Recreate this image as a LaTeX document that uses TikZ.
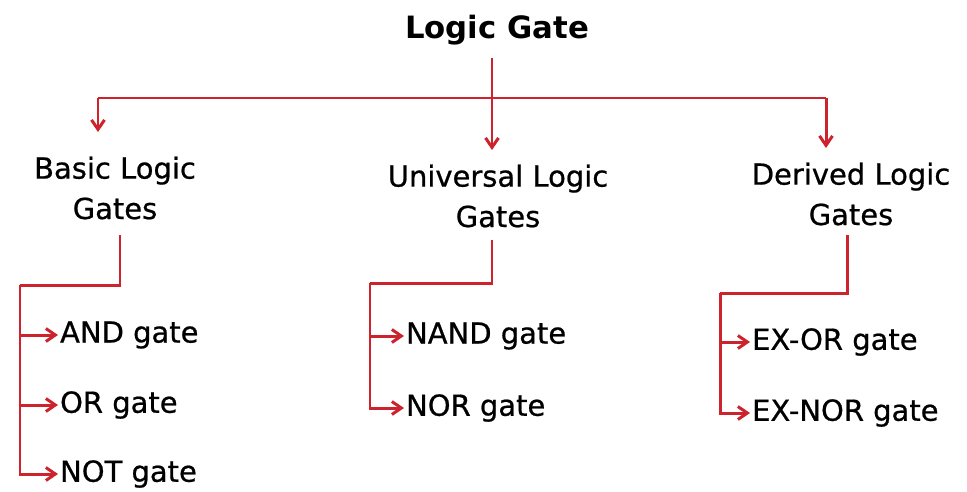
\documentclass[tikz,border=0pt]{standalone}
\usepackage{fontspec}
\setmainfont{DejaVu Sans}
\newfontfamily\labelfont[FakeBold=0.7]{DejaVu Sans}
\usetikzlibrary{arrows.meta}
\definecolor{linkred}{RGB}{205, 35, 45}

\begin{document}
\begin{tikzpicture}[
  x=0.02cm, y=-0.02cm,
  every node/.style={font=\labelfont\fontsize{16.5}{23}\selectfont, inner sep=1pt},
  title/.style={font=\fontsize{17.5}{22}\selectfont\bfseries},
  group/.style={align=center},
  leaf/.style={anchor=west},
  link/.style={draw=linkred, line width=1.7pt},
  arrow/.style={link, -{Straight Barb[length=1.9mm, width=2.6mm]}}
]
  \useasboundingbox (0,0) rectangle (967,491);

  % Titolo
  \node[title] (root) at (497,30) {Logic Gate};

  % Gruppi
  \node[group] (basic) at (115,188) {Basic Logic\\Gates};
  \node[group] (univ) at (498,196) {Universal Logic\\Gates};
  \node[group] (deriv) at (851,194) {Derived Logic\\Gates};

  % Porte
  \node[leaf] (and) at (58,335) {AND gate};
  \node[leaf] (or) at (58,405) {OR gate};
  \node[leaf] (not) at (58,474) {NOT gate};
  \node[leaf] (nand) at (404,336) {NAND gate};
  \node[leaf] (nor) at (404,408) {NOR gate};
  \node[leaf] (exor) at (750,342) {EX-OR gate};
  \node[leaf] (exnor) at (750,413) {EX-NOR gate};

  % Punti di snodo
  \coordinate (bus) at (492,98);
  \coordinate (bjoin) at (20,285);
  \coordinate (ujoin) at (370,283);
  \coordinate (djoin) at (720,293);

  % Ramo superiore
  \draw[link] (492,58) -- (bus);
  \draw[link] (bus) -- (98,98) coordinate (bl);
  \draw[link] (bus) -- (826,98) coordinate (br);
  \draw[arrow] (bl) -- (98,132);
  \draw[arrow] (bus) -- (492,150);
  \draw[arrow] (br) -- (826,148);

  % Porte di base
  \draw[link] (120,235) -- (120,285) -- (bjoin);
  \draw[arrow] (bjoin) |- (and.west);
  \draw[arrow] (bjoin) |- (or.west);
  \draw[arrow] (bjoin) |- (not.west);

  % Porte universali
  \draw[link] (492,240) -- (492,283) -- (ujoin);
  \draw[arrow] (ujoin) |- (nand.west);
  \draw[arrow] (ujoin) |- (nor.west);

  % Porte derivate
  \draw[link] (847,235) -- (847,293) -- (djoin);
  \draw[arrow] (djoin) |- (exor.west);
  \draw[arrow] (djoin) |- (exnor.west);

\end{tikzpicture}
\end{document}
